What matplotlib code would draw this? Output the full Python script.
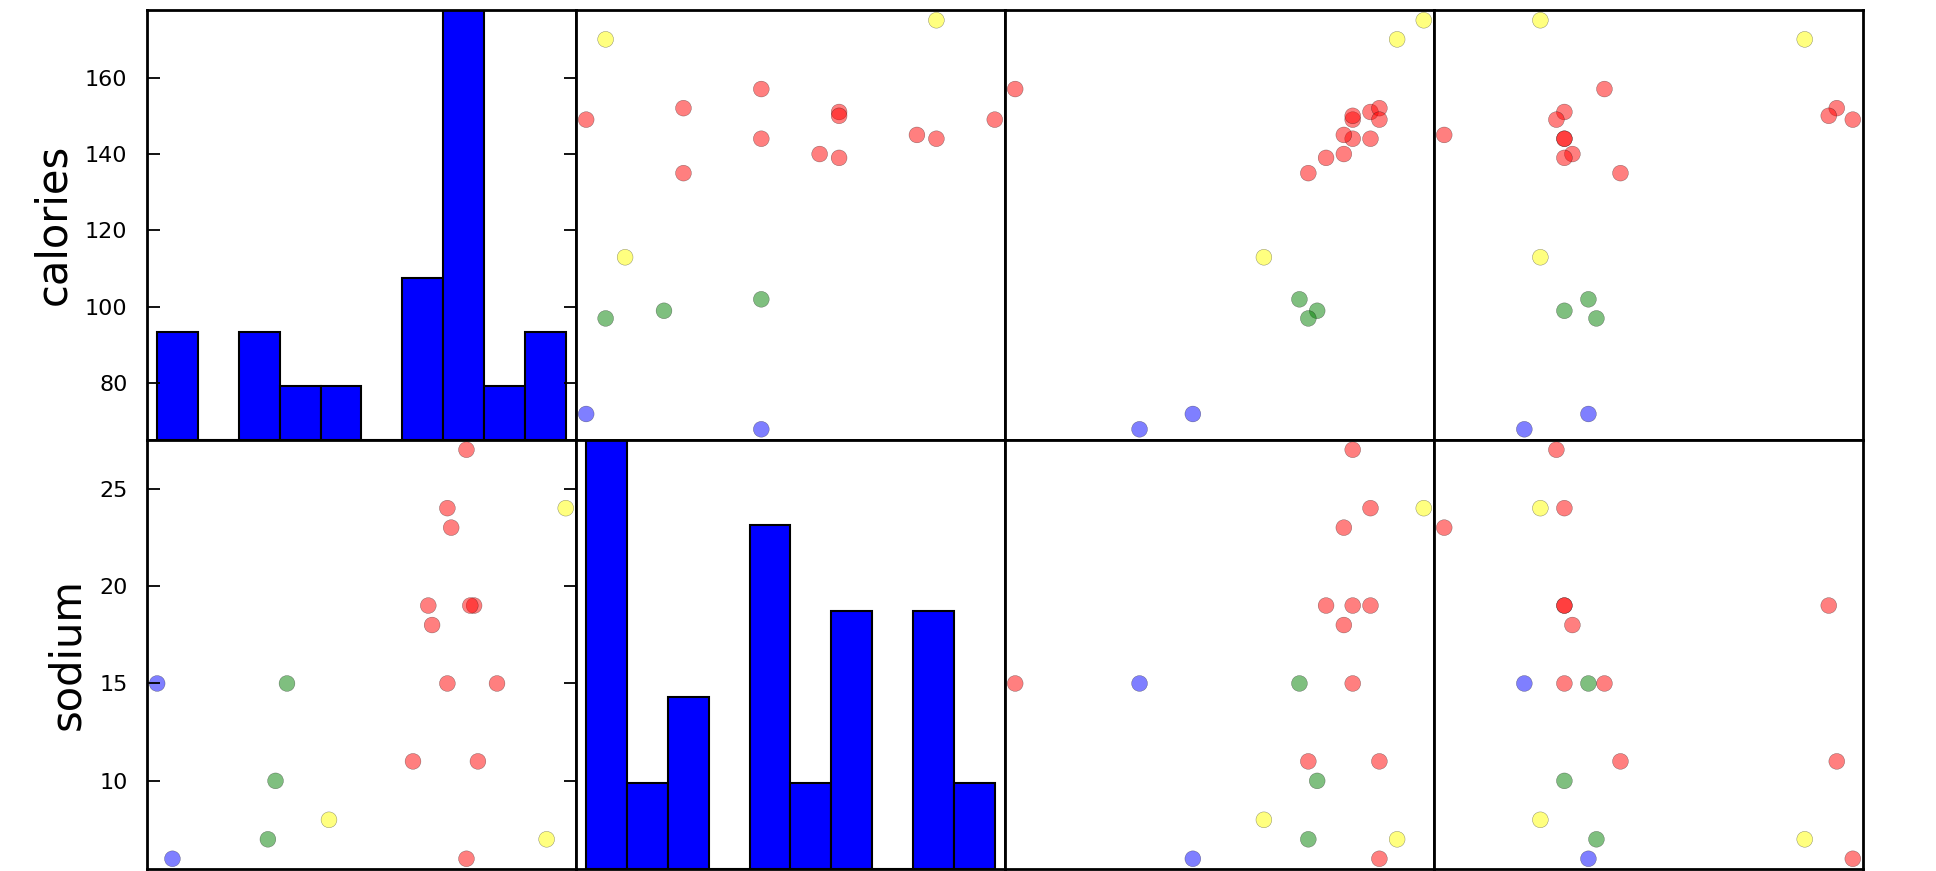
import numpy as np
import pandas as pd
import matplotlib
matplotlib.use('Agg')
import matplotlib.pyplot as plt

# beer data (calories, sodium, alcohol, cost) with cluster labels
names = ['Budweiser', 'Schlitz', 'Lowenbrau', 'Kronenbourg', 'Heineken',
         'Old_Milwaukee', 'Augsberger', 'Srohs_Bohemian_Style', 'Miller_Lite',
         'Budweiser_Light', 'Coors', 'Coors_Light', 'Michelob_Light', 'Becks',
         'Kirin', 'Pabst_Extra_Light', 'Hamms', 'Heilemanns_Old_Style',
         'Olympia_Goled_Light', 'Schlitz_Light']
calories = [144, 151, 157, 170, 152, 145, 175, 149, 99, 113,
            140, 102, 135, 150, 149, 68, 139, 144, 72, 97]
sodium = [15, 19, 15, 7, 11, 23, 24, 27, 10, 8,
          18, 15, 11, 19, 6, 15, 19, 24, 6, 7]
alcohol = [4.7, 4.9, 0.9, 5.2, 5.0, 4.6, 5.5, 4.7, 4.3, 3.7,
           4.6, 4.1, 4.2, 4.7, 5.0, 2.3, 4.4, 4.9, 2.9, 4.2]
cost = [0.43, 0.43, 0.48, 0.73, 0.77, 0.28, 0.40, 0.42, 0.43, 0.40,
        0.44, 0.46, 0.50, 0.76, 0.79, 0.38, 0.43, 0.43, 0.46, 0.47]
cluster = [0, 0, 0, 3, 0, 0, 3, 0, 1, 3,
           0, 1, 0, 0, 0, 2, 0, 0, 2, 1]

row_vars = ['calories', 'sodium']
col_vars = ['calories', 'sodium', 'alcohol', 'cost']
row_ticks = {'calories': [80, 100, 120, 140, 160], 'sodium': [10, 15, 20, 25]}

beer = pd.DataFrame({'name': names, 'calories': calories, 'sodium': sodium,
                     'alcohol': alcohol, 'cost': cost, 'cluster': cluster})
colors = np.array(['red', 'green', 'blue', 'yellow'])

def bounds(col):
    v = beer[col]
    pad = (v.max() - v.min()) * 0.05 / 2.0
    return (v.min() - pad, v.max() + pad)

fig = plt.figure(figsize=(19.36, 8.71), dpi=100)
gs = fig.add_gridspec(2, 4, left=0.0759, right=0.9623, top=0.9885,
                      bottom=0.0023, wspace=0, hspace=0)

for i, a in enumerate(row_vars):
    for j, b in enumerate(col_vars):
        ax = fig.add_subplot(gs[i, j])
        for s in ax.spines.values():
            s.set_linewidth(2)
        if a == b:
            # diagonal: histogram, ticks relabelled to the variable's range
            counts, edges, _ = ax.hist(beer[a], bins=10, color='b',
                                       edgecolor='k', linewidth=1.5)
            ax.set_xlim(bounds(b))
            ax.set_ylim(0, counts.max())
            if j == 0:
                lim = bounds(a)
                locs = np.array(row_ticks[a])
                adj = (locs - lim[0]) / (lim[1] - lim[0]) * counts.max()
                ax.set_yticks(adj)
                ax.set_yticklabels(locs)
        else:
            ax.scatter(beer[b], beer[a], c=colors[beer.cluster], s=130,
                       alpha=0.5, edgecolors='k', linewidths=0.3)
            ax.set_xlim(bounds(b))
            ax.set_ylim(bounds(a))
            if j == 0:
                ax.set_yticks(row_ticks[a])
        ax.xaxis.set_visible(False)
        if j == 0:
            ax.set_ylabel(a, fontsize=30, labelpad=8)
            ax.tick_params(axis='y', direction='in', length=9, width=1.3,
                           left=True, right=True, labelsize=16, pad=14)
        else:
            ax.yaxis.set_visible(False)

plt.savefig('out.png', dpi=100)
